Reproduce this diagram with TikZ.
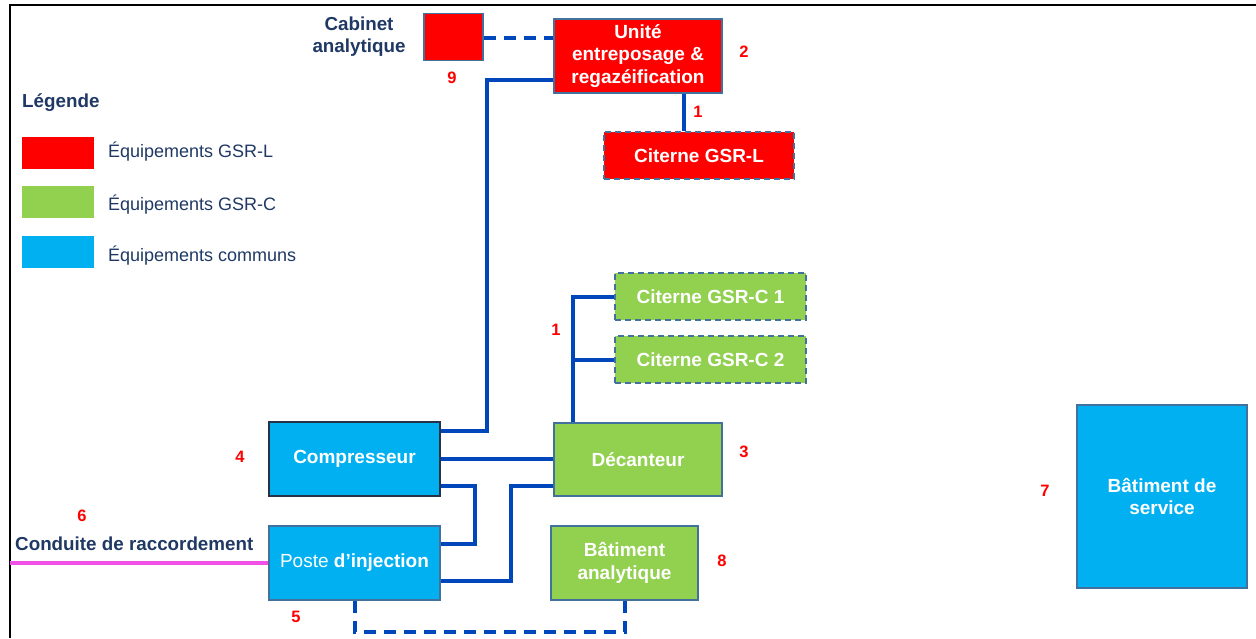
\documentclass[tikz,border=0pt]{standalone}
\usepackage{fontspec}
\setmainfont{Liberation Sans}
\usetikzlibrary{calc}
\definecolor{gred}{RGB}{255,0,0}
\definecolor{ggreen}{RGB}{146,208,80}
\definecolor{gblue}{RGB}{0,176,240}
\definecolor{pipeblue}{RGB}{0,71,187}
\definecolor{bord}{RGB}{65,113,156}
\definecolor{navy}{RGB}{31,56,100}
\definecolor{pink}{RGB}{240,80,230}
\definecolor{darkbord}{RGB}{40,50,70}
\tikzset{
  box/.style={draw=bord, line width=1.5pt, text=white, align=center, inner sep=0pt,
    font=\fontsize{19}{22.5}\selectfont\bfseries},
  dashbox/.style={box, dash pattern=on 6pt off 4pt},
  pipe/.style={draw=pipeblue, line width=4pt},
  dashpipe/.style={draw=pipeblue, line width=4pt, dash pattern=on 12pt off 8pt},
  num/.style={text=red, font=\fontsize{16.5}{18}\selectfont\bfseries, inner sep=0pt},
  lbl/.style={text=navy, font=\fontsize{18.8}{22}\selectfont\bfseries, align=center, inner sep=0pt},
  legtxt/.style={text=navy, font=\fontsize{18}{22}\selectfont, anchor=west, inner sep=0pt},
  swatch/.style={draw=none, minimum width=72pt, minimum height=32pt, inner sep=0pt}
}
\begin{document}
\begin{tikzpicture}[x=1pt,y=-1pt]
\useasboundingbox (0,0) rectangle (1256,638);
% frame
\draw[line width=2pt] (10,638) -- (10,5) -- (1256,5);
% legend
\node[lbl, anchor=west] (leg) at (22,103) {Légende};
\node[swatch, fill=gred, anchor=north west] (swr) at (22,137) {};
\node[swatch, fill=ggreen, anchor=north west] (swg) at (22,186) {};
\node[swatch, fill=gblue, anchor=north west] (swb) at (22,236) {};
\node[legtxt] (tr) at (108,152) {Équipements GSR-L};
\node[legtxt] (tg) at (108,205) {Équipements GSR-C};
\node[legtxt] (tb) at (108,256) {Équipements communs};
% boxes
\node[box, fill=gred, minimum width=59pt, minimum height=47pt] (cab) at (453.5,37) {};
\node[box, fill=gred, minimum width=168pt, minimum height=74pt] (unite) at (638,56) {Unité\\entreposage \&\\regazéification};
\node[dashbox, fill=gred, minimum width=190pt, minimum height=47pt] (citL) at (699,155.5) {Citerne GSR-L};
\node[dashbox, fill=ggreen, minimum width=191pt, minimum height=47pt] (citC1) at (710.5,296.5) {Citerne GSR-C 1};
\node[dashbox, fill=ggreen, minimum width=191pt, minimum height=47pt] (citC2) at (710.5,359.5) {Citerne GSR-C 2};
\node[box, fill=ggreen, minimum width=168pt, minimum height=73pt] (dec) at (638,459.5) {Décanteur};
\node[box, draw=darkbord, fill=gblue, minimum width=171pt, minimum height=74pt] (comp) at (354.5,459) {Compresseur};
\node[box, fill=gblue, minimum width=171pt, minimum height=74pt] (poste) at (354.5,563) {{\mdseries Poste} d’injection};
\node[box, fill=ggreen, minimum width=147pt, minimum height=74pt] (batA) at (624.5,563) {Bâtiment\\analytique};
\node[box, fill=gblue, minimum width=170pt, minimum height=183pt] (batS) at (1162,496.5) {Bâtiment de\\service};
% labels
\node[lbl] (cabl) at (359,37) {Cabinet\\analytique};
\node[lbl, anchor=west] (condl) at (15,544) {Conduite de raccordement};
\node[num] (n9) at (452,78) {9};
\node[num] (n2) at (744,52) {2};
\node[num] (n1a) at (698,112) {1};
\node[num] (n1b) at (556,330) {1};
\node[num] (n3) at (744,452) {3};
\node[num] (n4) at (240,457) {4};
\node[num] (n6) at (82,516) {6};
\node[num] (n5) at (296,617) {5};
\node[num] (n8) at (722,561) {8};
\node[num] (n7) at (1045,491) {7};
% connectors
\draw[dashpipe] (cab.east |- 0,38) -- (unite.west |- 0,38);
\draw[pipe] ($(unite.south west)+(0,-14)$) -| ($(comp.north east)+(46,10)$) -- ($(comp.north east)+(0,10)$);
\coordinate (udrop) at ($(unite.south)+(46,0)$);
\draw[pipe] (udrop) -- (udrop |- citL.north);
\coordinate (tree) at ($(dec.north west)+(20,0)$);
\draw[pipe] (tree) |- (citC1.west);
\draw[pipe] (tree |- citC2.west) -- (citC2.west);
\draw[pipe] (comp.east) -- (comp.east -| dec.west);
\draw[pipe] ($(comp.south east)+(0,-11)$) -| ($(poste.north east)+(34,19)$) -- ($(poste.north east)+(0,19)$);
\draw[pipe] ($(dec.south west)+(0,-11)$) -| ($(poste.south east)+(70,-20)$) -- ($(poste.south east)+(0,-20)$);
\coordinate (cstart) at (10,563);
\draw[draw=pink, line width=4pt] (cstart) -- (poste.west);
\draw[dashpipe] (poste.south) |- ($(batA.south)+(0,31)$) -- (batA.south);
\end{tikzpicture}
\end{document}
